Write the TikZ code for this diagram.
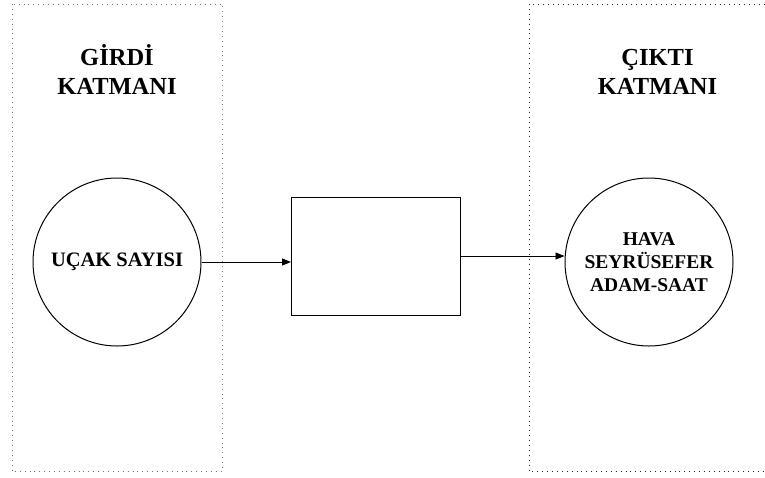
\documentclass[tikz,border=0pt]{standalone}
\usepackage{fontspec}
\setmainfont{Liberation Serif}[BoldFont={Liberation Serif Bold}]
\usetikzlibrary{arrows.meta}
\tikzset{
  layerbox/.style={line width=0.9pt, dash pattern=on 0.9pt off 4pt},
  title/.style={font=\bfseries\fontsize{24.5}{29}\selectfont, align=center, inner sep=0pt},
  unit/.style={circle, draw, line width=1pt, minimum size=168pt, inner sep=0pt,
    font=\bfseries\fontsize{19.5}{23}\selectfont, align=center},
  proc/.style={rectangle, draw, line width=1pt, minimum width=169pt, minimum height=118pt, inner sep=0pt},
  flow/.style={line width=0.9pt, -{Triangle[length=9pt,width=7pt]}}
}
\begin{document}
\begin{tikzpicture}[x=1pt,y=1pt]
\clip (0,0) rectangle (765,-477);
\fill[white] (0,0) rectangle (765,-477);
\draw[layerbox, black!55] (12,-4) rectangle (222,-471.5);
\draw[layerbox, black!85] (529,-4) rectangle (780,-471);
\node[title, anchor=base] (tin) at (117,-94) {GİRDİ\\KATMANI};
\node[title, anchor=base] (tout) at (657.5,-94) {ÇIKTI\\KATMANI};
\node[unit, font=\bfseries\fontsize{20.5}{23}\selectfont] (cin) at (117,-262) {UÇAK SAYISI};
\node[unit] (cout) at (649,-262) {HAVA\\SEYRÜSEFER\\ADAM-SAAT};
\node[proc] (box) at (376,-256.5) {};
\coordinate (outstart) at (box.east |- 0,-256);
\draw[flow] (cin.east) -- (cin.east -| box.west);
\draw[flow] (outstart) -- (cout.west |- outstart);
\end{tikzpicture}
\end{document}
